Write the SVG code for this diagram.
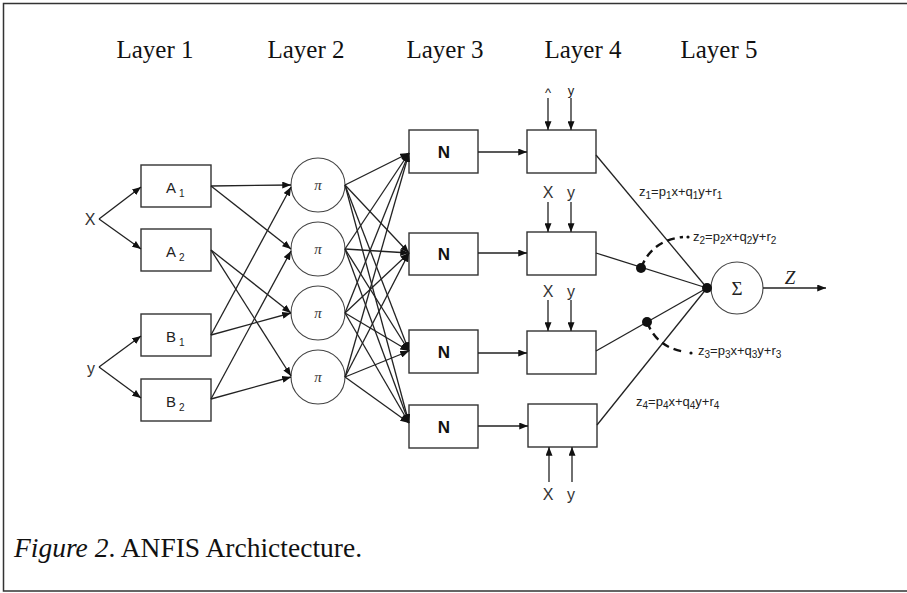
<svg xmlns="http://www.w3.org/2000/svg" width="907" height="593" viewBox="0 0 907 593">
  <style>
    .frame { fill: none; stroke: #333; stroke-width: 1.5; }
    .box { fill: #fff; stroke: #333; stroke-width: 1.4; }
    .node { fill: #fff; stroke: #444; stroke-width: 1.1; }
    .wire { fill: none; stroke: #222; stroke-width: 1.3; }
    .arrow { marker-end: url(#head); }
    .dash { fill: none; stroke: #111; stroke-width: 2.4; stroke-dasharray: 8 5; }
    .title { font-family: "Liberation Serif", "Times New Roman", serif; font-size: 25px; fill: #111; text-anchor: middle; }
    .caption { font-family: "Liberation Serif", "Times New Roman", serif; font-size: 27.5px; fill: #111; }
    .lbl { font-family: "Liberation Sans", Arial, sans-serif; font-size: 15px; fill: #222; }
    .sub { font-size: 10px; }
    .n { font-family: "Liberation Sans", Arial, sans-serif; font-size: 17px; font-weight: bold; fill: #111; text-anchor: middle; }
    .pi { font-family: "Liberation Serif", serif; font-size: 15px; font-style: italic; fill: #333; text-anchor: middle; }
    .io { font-family: "Liberation Sans", Arial, sans-serif; font-size: 16px; fill: #333; text-anchor: middle; }
    .eq { font-family: "Liberation Sans", Arial, sans-serif; font-size: 13px; fill: #222; }
    .eqs { font-size: 10px; }
    .sym { font-family: "Liberation Serif", serif; font-size: 19px; fill: #222; text-anchor: middle; }
  </style>
  <defs>
    <marker id="head" viewBox="0 0 10 8" refX="10" refY="4" markerWidth="9" markerHeight="7" markerUnits="userSpaceOnUse" orient="auto">
      <path d="M0,0 L10,4 L0,8 z" fill="#111"/>
    </marker>
  </defs>

  <rect width="907" height="593" fill="#fff"/>
  <path class="frame" d="M907,3.5 H3.5 V591 H907"/>

  <!-- layer titles -->
  <text class="title" x="155" y="58">Layer 1</text>
  <text class="title" x="306" y="58">Layer 2</text>
  <text class="title" x="445" y="58">Layer 3</text>
  <text class="title" x="583" y="58">Layer 4</text>
  <text class="title" x="719" y="58">Layer 5</text>

  <!-- inputs -->
  <g id="input-x"><text class="io" x="90" y="225">X</text></g>
  <g id="input-y"><text class="io" x="91" y="374">y</text></g>

  <!-- layer 1: membership functions -->
  <g id="A1"><rect class="box" x="141" y="165" width="70" height="42"/><text class="lbl" x="166" y="193">A<tspan class="sub" dx="3" dy="4">1</tspan></text></g>
  <g id="A2"><rect class="box" x="141" y="229" width="70" height="42"/><text class="lbl" x="166" y="257">A<tspan class="sub" dx="3" dy="4">2</tspan></text></g>
  <g id="B1"><rect class="box" x="141" y="314" width="70" height="42"/><text class="lbl" x="166" y="342">B<tspan class="sub" dx="3" dy="4">1</tspan></text></g>
  <g id="B2"><rect class="box" x="141" y="379" width="70" height="42"/><text class="lbl" x="166" y="407">B<tspan class="sub" dx="3" dy="4">2</tspan></text></g>

  <!-- layer 2: product nodes -->
  <g id="P1"><circle class="node" cx="318" cy="185" r="27"/><text class="pi" x="318" y="190">π</text></g>
  <g id="P2"><circle class="node" cx="318" cy="249" r="27"/><text class="pi" x="318" y="254">π</text></g>
  <g id="P3"><circle class="node" cx="318" cy="313" r="27"/><text class="pi" x="318" y="318">π</text></g>
  <g id="P4"><circle class="node" cx="318" cy="377" r="27"/><text class="pi" x="318" y="382">π</text></g>

  <!-- layer 3: normalisation -->
  <g id="N1"><rect class="box" x="409" y="130" width="69" height="43"/><text class="n" x="444" y="158">N</text></g>
  <g id="N2"><rect class="box" x="409" y="233" width="69" height="42"/><text class="n" x="444" y="260">N</text></g>
  <g id="N3"><rect class="box" x="409" y="330" width="69" height="43"/><text class="n" x="444" y="358">N</text></g>
  <g id="N4"><rect class="box" x="409" y="405" width="69" height="43"/><text class="n" x="444" y="433">N</text></g>

  <!-- layer 4: rule consequents -->
  <g id="R1"><rect class="box" x="527" y="130" width="69" height="43"/></g>
  <g id="R2"><rect class="box" x="527" y="232" width="69" height="43"/></g>
  <g id="R3"><rect class="box" x="527" y="331" width="69" height="43"/></g>
  <g id="R4"><rect class="box" x="528" y="404" width="69" height="43"/></g>

  <!-- layer 4 input labels -->
  <text class="eq" x="548" y="97" text-anchor="middle">^</text>
  <text class="eq" x="571" y="95" text-anchor="middle" font-size="10">y</text>
  <text class="io" x="548" y="198">X</text>
  <text class="io" x="571" y="198">y</text>
  <text class="io" x="548" y="297">X</text>
  <text class="io" x="571" y="297">y</text>
  <text class="io" x="548" y="500">X</text>
  <text class="io" x="571" y="500">y</text>

  <!-- layer 5: summation -->
  <g id="S"><circle class="node" cx="737" cy="288" r="26"/><text class="sym" x="737" y="295">Σ</text></g>
  <text class="sym" x="790" y="284" font-style="italic">Z</text>

  <!-- consequent equations -->
  <text class="eq" x="639" y="196">z<tspan class="eqs" dy="3">1</tspan><tspan dy="-3">=p</tspan><tspan class="eqs" dy="3">1</tspan><tspan dy="-3">x+q</tspan><tspan class="eqs" dy="3">1</tspan><tspan dy="-3">y+r</tspan><tspan class="eqs" dy="3">1</tspan></text>
  <text class="eq" x="693" y="241">z<tspan class="eqs" dy="3">2</tspan><tspan dy="-3">=p</tspan><tspan class="eqs" dy="3">2</tspan><tspan dy="-3">x+q</tspan><tspan class="eqs" dy="3">2</tspan><tspan dy="-3">y+r</tspan><tspan class="eqs" dy="3">2</tspan></text>
  <text class="eq" x="698" y="355">z<tspan class="eqs" dy="3">3</tspan><tspan dy="-3">=p</tspan><tspan class="eqs" dy="3">3</tspan><tspan dy="-3">x+q</tspan><tspan class="eqs" dy="3">3</tspan><tspan dy="-3">y+r</tspan><tspan class="eqs" dy="3">3</tspan></text>
  <text class="eq" x="636" y="406">z<tspan class="eqs" dy="3">4</tspan><tspan dy="-3">=p</tspan><tspan class="eqs" dy="3">4</tspan><tspan dy="-3">x+q</tspan><tspan class="eqs" dy="3">4</tspan><tspan dy="-3">y+r</tspan><tspan class="eqs" dy="3">4</tspan></text>

  <g id="connectors">
    <!-- inputs to layer 1 -->
    <path class="wire arrow" d="M99,219 L141,187"/>
    <path class="wire arrow" d="M99,219 L141,249"/>
    <path class="wire arrow" d="M99,367 L141,336"/>
    <path class="wire arrow" d="M99,367 L141,398"/>

    <!-- layer 1 to layer 2 -->
    <path class="wire arrow" d="M211,186 L291,185"/>
    <path class="wire arrow" d="M211,186 L291,249"/>
    <path class="wire arrow" d="M211,250 L291,313"/>
    <path class="wire arrow" d="M211,250 L291,376"/>
    <path class="wire arrow" d="M211,335 L291,187"/>
    <path class="wire arrow" d="M211,335 L291,313"/>
    <path class="wire arrow" d="M211,399 L291,251"/>
    <path class="wire arrow" d="M211,399 L291,377"/>

    <!-- layer 2 to layer 3 (fully connected) -->
    <path class="wire arrow" d="M345,185 L409,153"/>
    <path class="wire arrow" d="M345,185 L409,253"/>
    <path class="wire arrow" d="M345,185 L409,351"/>
    <path class="wire arrow" d="M345,185 L409,423"/>
    <path class="wire arrow" d="M345,249 L409,153"/>
    <path class="wire arrow" d="M345,249 L409,253"/>
    <path class="wire arrow" d="M345,249 L409,351"/>
    <path class="wire arrow" d="M345,249 L409,423"/>
    <path class="wire arrow" d="M345,313 L409,153"/>
    <path class="wire arrow" d="M345,313 L409,253"/>
    <path class="wire arrow" d="M345,313 L409,351"/>
    <path class="wire arrow" d="M345,313 L409,423"/>
    <path class="wire arrow" d="M345,377 L409,153"/>
    <path class="wire arrow" d="M345,377 L409,253"/>
    <path class="wire arrow" d="M345,377 L409,351"/>
    <path class="wire arrow" d="M345,377 L409,423"/>

    <!-- layer 3 to layer 4 -->
    <path class="wire arrow" d="M478,152 L527,152"/>
    <path class="wire arrow" d="M478,253 L527,253"/>
    <path class="wire arrow" d="M478,353 L527,353"/>
    <path class="wire arrow" d="M478,426 L528,426"/>

    <!-- x, y inputs to layer 4 -->
    <path class="wire arrow" d="M548,98 L548,130"/>
    <path class="wire arrow" d="M571,98 L571,130"/>
    <path class="wire arrow" d="M548,202 L548,232"/>
    <path class="wire arrow" d="M571,202 L571,232"/>
    <path class="wire arrow" d="M548,300 L548,331"/>
    <path class="wire arrow" d="M571,300 L571,331"/>
    <path class="wire arrow" d="M549,482 L549,447"/>
    <path class="wire arrow" d="M572,482 L572,447"/>

    <!-- layer 4 to summation -->
    <path class="wire" d="M596,155 L707,288"/>
    <path class="wire" d="M596,253 L707,288"/>
    <path class="wire" d="M596,351 L707,288"/>
    <path class="wire" d="M597,425 L707,288"/>
    <circle cx="707" cy="288" r="5" fill="#111"/>
    <circle cx="641" cy="268" r="5" fill="#111"/>
    <circle cx="647" cy="322" r="5" fill="#111"/>
    <path class="dash" d="M641,268 Q652,240 683,237"/>
    <circle cx="688" cy="237" r="1.6" fill="#111"/>
    <path class="dash" d="M647,322 Q657,348 686,352"/>
    <circle cx="691" cy="353" r="1.6" fill="#111"/>

    <!-- output -->
    <path class="wire arrow" d="M763,288 L826,288"/>
  </g>

  <!-- caption -->
  <text class="caption" x="14" y="557"><tspan font-style="italic">Figure 2</tspan>. ANFIS Archictecture.</text>
</svg>
